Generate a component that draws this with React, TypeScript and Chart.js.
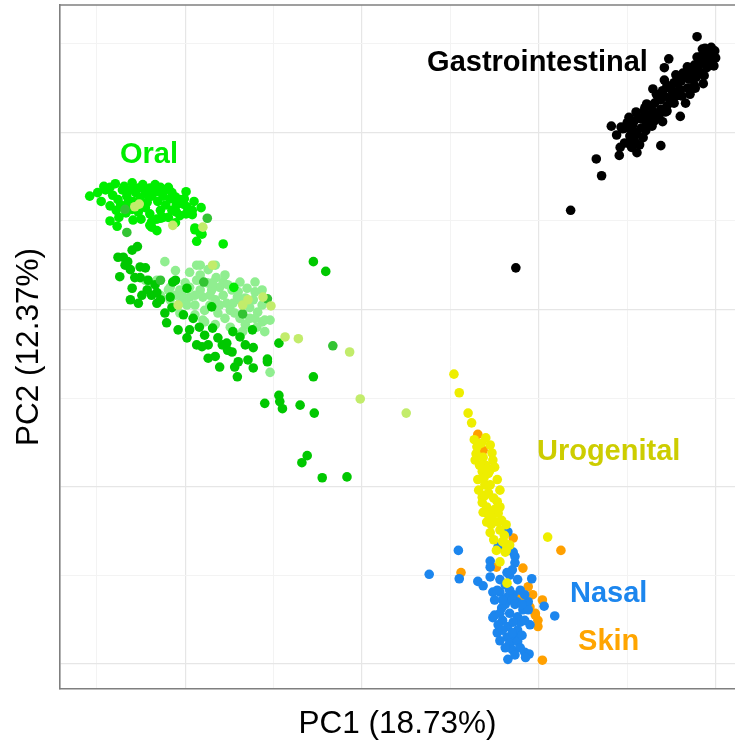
import React, { useEffect, useRef } from 'react';
import { Chart, registerables } from 'chart.js';

Chart.register(...registerables);

const FONT = '"Liberation Sans", Arial, Helvetica, sans-serif';

const X_TITLE = 'PC1 (18.73%)';
const Y_TITLE = 'PC2 (12.37%)';
const X_RANGE = [-0.3416, 0.4219];
const Y_RANGE = [-0.4285, 0.3438];
const GRID_X = [-0.3, -0.2, -0.1, 0, 0.1, 0.2, 0.3, 0.4];
const GRID_Y = [-0.4, -0.3, -0.2, -0.1, 0, 0.1, 0.2, 0.3];

const GASTRO: [number, number][] = [
  [0.379, 0.308], [0.174, 0.047], [0.236, 0.112], [0.271, 0.151], [0.265, 0.170], [0.291, 0.174],
  [0.292, 0.183], [0.311, 0.177], [0.282, 0.207], [0.338, 0.185], [0.360, 0.218], [0.386, 0.255],
  [0.347, 0.283], [0.342, 0.273], [0.342, 0.259], [0.329, 0.249], [0.320, 0.228], [0.302, 0.217],
  [0.398, 0.275], [0.397, 0.287], [0.385, 0.294], [0.372, 0.248], [0.366, 0.233], [0.345, 0.224],
  [0.340, 0.212], [0.318, 0.194], [0.301, 0.188],
  [0.295, 0.204], [0.303, 0.196], [0.308, 0.191], [0.300, 0.211], [0.306, 0.203], [0.311, 0.198],
  [0.308, 0.213], [0.316, 0.205], [0.310, 0.223], [0.317, 0.215], [0.322, 0.209], [0.319, 0.224],
  [0.326, 0.217], [0.330, 0.212], [0.322, 0.232], [0.329, 0.224], [0.334, 0.220], [0.331, 0.233],
  [0.338, 0.226], [0.333, 0.243], [0.338, 0.237], [0.345, 0.230], [0.340, 0.247], [0.347, 0.239],
  [0.353, 0.233], [0.345, 0.253], [0.351, 0.247], [0.355, 0.241], [0.353, 0.256], [0.360, 0.248],
  [0.355, 0.265], [0.361, 0.258], [0.368, 0.250], [0.363, 0.267], [0.370, 0.260], [0.376, 0.253],
  [0.368, 0.274], [0.373, 0.268], [0.378, 0.262], [0.376, 0.276], [0.382, 0.268], [0.387, 0.264],
  [0.379, 0.285], [0.383, 0.278], [0.390, 0.273], [0.386, 0.288], [0.391, 0.282], [0.397, 0.276],
  [0.392, 0.293], [0.398, 0.286], [0.399, 0.292], [0.395, 0.296],
  [0.388, 0.295], [0.394, 0.287], [0.400, 0.284], [0.382, 0.285], [0.389, 0.281], [0.396, 0.279],
  [0.380, 0.275], [0.371, 0.270], [0.365, 0.262], [0.357, 0.255], [0.348, 0.250], [0.342, 0.241],
  [0.335, 0.237], [0.327, 0.230], [0.320, 0.221], [0.313, 0.216], [0.306, 0.208], [0.301, 0.205],
  [0.293, 0.206], [0.288, 0.197], [0.297, 0.188], [0.305, 0.183], [0.314, 0.186], [0.321, 0.202],
  [0.328, 0.207], [0.336, 0.216], [0.343, 0.223], [0.371, 0.243], [0.362, 0.241], [0.377, 0.250],
];

const ORAL_BRIGHT: [number, number][] = [
  [-0.308, 0.128], [-0.299, 0.132], [-0.295, 0.122], [-0.290, 0.135], [-0.285, 0.138], [-0.282, 0.129],
  [-0.279, 0.142], [-0.276, 0.124], [-0.271, 0.135], [-0.269, 0.139], [-0.266, 0.128], [-0.262, 0.135],
  [-0.260, 0.143], [-0.259, 0.122], [-0.256, 0.132], [-0.253, 0.137], [-0.251, 0.126], [-0.248, 0.141],
  [-0.245, 0.132], [-0.243, 0.121], [-0.240, 0.137], [-0.238, 0.128], [-0.234, 0.141], [-0.232, 0.133],
  [-0.231, 0.122], [-0.228, 0.138], [-0.225, 0.128], [-0.223, 0.135], [-0.219, 0.138], [-0.217, 0.125],
  [-0.215, 0.132], [-0.211, 0.127], [-0.210, 0.118], [-0.206, 0.124], [-0.202, 0.119], [-0.201, 0.125],
  [-0.198, 0.116], [-0.192, 0.112], [-0.190, 0.122], [-0.182, 0.115], [-0.285, 0.117], [-0.278, 0.112],
  [-0.273, 0.118], [-0.267, 0.109], [-0.260, 0.113], [-0.253, 0.110], [-0.250, 0.102], [-0.245, 0.115],
  [-0.240, 0.108], [-0.238, 0.099], [-0.232, 0.102], [-0.228, 0.112], [-0.225, 0.104], [-0.219, 0.104],
  [-0.215, 0.112], [-0.210, 0.110], [-0.206, 0.106], [-0.199, 0.108], [-0.192, 0.107], [-0.275, 0.104],
  [-0.285, 0.100], [-0.277, 0.094], [-0.259, 0.101], [-0.240, 0.095], [-0.238, 0.093], [-0.232, 0.089],
  [-0.228, 0.103], [-0.211, 0.098], [-0.189, 0.092], [-0.181, 0.085], [-0.187, 0.077], [-0.157, 0.074],
  [-0.145, 0.025], [-0.183, 0.086], [-0.189, 0.090], [-0.265, 0.120], [-0.242, 0.129], [-0.222, 0.118],
  [-0.199, 0.133], [-0.292, 0.139],
];

const ORAL_MID: [number, number][] = [
  [-0.268, 0.113], [-0.266, 0.087], [-0.175, 0.103], [-0.228, 0.033], [-0.179, 0.031], [-0.135, -0.005],
  [-0.107, 0.012], [-0.033, -0.041],
];

const ORAL_YELLOWGREEN: [number, number][] = [
  [-0.257, 0.116], [-0.252, 0.119], [-0.214, 0.095], [-0.180, 0.093], [-0.169, 0.050], [-0.087, -0.031],
  [-0.072, -0.033], [-0.014, -0.048], [-0.002, -0.101], [0.050, -0.117], [-0.208, 0.005], [-0.135, 0.005],
  [-0.112, 0.014], [-0.103, 0.004], [-0.129, 0.011],
];

const ORAL_LIGHT: [number, number][] = [
  [-0.223, 0.054], [-0.187, 0.050], [-0.232, 0.033], [-0.217, 0.025], [-0.206, 0.022], [-0.195, 0.025],
  [-0.187, 0.033], [-0.175, 0.030], [-0.161, 0.025], [-0.157, 0.031], [-0.141, 0.014], [-0.130, 0.024],
  [-0.123, 0.011], [-0.202, 0.014], [-0.195, 0.014], [-0.180, 0.014], [-0.153, 0.007], [-0.146, 0.007],
  [-0.157, 0.016], [-0.172, 0.005], [-0.163, -0.004], [-0.138, -0.010], [-0.119, -0.020], [-0.118, -0.003],
  [-0.113, -0.014], [-0.110, -0.025], [-0.149, -0.020], [-0.206, -0.004], [-0.180, -0.012], [-0.104, -0.071],
  [-0.217, 0.011], [-0.189, 0.005], [-0.178, -0.001], [-0.166, 0.011], [-0.149, -0.001], [-0.140, 0.020],
  [-0.170, 0.022], [-0.200, 0.030], [-0.211, 0.016], [-0.183, 0.022], [-0.155, -0.010], [-0.127, 0.002],
  [-0.113, 0.005], [-0.132, -0.017], [-0.166, -0.017], [-0.189, -0.006], [-0.198, 0.005], [-0.228, 0.016],
  [-0.240, 0.028], [-0.245, 0.033], [-0.121, 0.020], [-0.138, 0.011], [-0.147, 0.022], [-0.165, 0.036],
  [-0.183, 0.039], [-0.104, -0.012], [-0.121, -0.010], [-0.172, 0.016],
  [-0.211, 0.044], [-0.195, 0.042], [-0.174, 0.045], [-0.155, 0.039], [-0.138, 0.031], [-0.121, 0.031],
  [-0.113, 0.022], [-0.152, 0.028], [-0.169, 0.030], [-0.189, 0.016], [-0.206, 0.007], [-0.132, 0.013],
  [-0.144, -0.004], [-0.127, -0.010], [-0.161, 0.005], [-0.178, -0.014], [-0.110, -0.012], [-0.135, -0.025],
  [-0.183, 0.050], [-0.166, 0.050], [-0.219, 0.022],
];

const ORAL_DARK: [number, number][] = [
  [-0.270, 0.059], [-0.260, 0.067], [-0.254, 0.071], [-0.276, 0.059], [-0.274, 0.037], [-0.262, 0.045],
  [-0.251, 0.048], [-0.245, 0.047], [-0.257, 0.036], [-0.260, 0.024], [-0.251, 0.036], [-0.243, 0.022],
  [-0.238, 0.016], [-0.232, 0.019], [-0.262, 0.011], [-0.253, 0.007], [-0.232, 0.007], [-0.217, 0.014],
  [-0.211, 0.033], [-0.198, 0.024], [-0.170, 0.003], [-0.214, 0.031], [-0.228, 0.011], [-0.215, 0.002],
  [-0.202, -0.006], [-0.221, -0.015], [-0.208, -0.023], [-0.198, -0.032], [-0.191, -0.010], [-0.184, -0.020],
  [-0.187, -0.040], [-0.181, -0.042], [-0.174, -0.040], [-0.169, -0.021], [-0.158, -0.040], [-0.153, -0.038],
  [-0.147, -0.048], [-0.146, -0.025], [-0.174, -0.055], [-0.166, -0.053], [-0.161, -0.065], [-0.144, -0.065],
  [-0.140, -0.059], [-0.141, -0.076], [-0.129, -0.057], [-0.123, -0.066], [-0.124, -0.023], [-0.138, -0.031],
  [-0.123, -0.043], [-0.107, -0.056], [-0.107, -0.059], [-0.094, -0.038], [-0.055, 0.054], [-0.041, 0.043],
  [-0.055, -0.076], [-0.094, -0.097], [-0.110, -0.106], [-0.093, -0.104], [-0.090, -0.112], [-0.070, -0.108],
  [-0.054, -0.117], [-0.062, -0.165], [-0.068, -0.173], [-0.045, -0.190], [-0.017, -0.189],
  [-0.268, 0.050], [-0.242, 0.033], [-0.234, 0.028], [-0.223, -0.004], [-0.195, -0.023], [-0.178, -0.029],
  [-0.163, -0.032], [-0.152, -0.046], [-0.132, -0.040], [-0.265, 0.054], [-0.249, 0.016],
];

const UROGENITAL: [number, number][] = [
  [0.104, -0.073], [0.110, -0.094], [0.120, -0.117], [0.124, -0.128], [0.135, -0.151], [0.145, -0.153],
  [0.129, -0.163], [0.137, -0.167], [0.128, -0.170], [0.147, -0.162], [0.148, -0.170], [0.150, -0.178],
  [0.143, -0.185], [0.136, -0.183], [0.131, -0.192], [0.153, -0.192], [0.139, -0.198], [0.132, -0.204],
  [0.136, -0.212], [0.143, -0.207], [0.156, -0.204], [0.136, -0.218], [0.141, -0.223], [0.153, -0.217],
  [0.156, -0.223], [0.143, -0.232], [0.154, -0.230], [0.141, -0.240], [0.154, -0.240], [0.158, -0.238],
  [0.163, -0.243], [0.145, -0.252], [0.149, -0.260], [0.159, -0.262], [0.210, -0.257], [0.163, -0.272],
  [0.162, -0.264], [0.162, -0.274], [0.156, -0.285], [0.164, -0.309], [0.130, -0.155], [0.140, -0.176],
  [0.145, -0.198], [0.149, -0.213], [0.138, -0.190], [0.146, -0.243], [0.156, -0.249], [0.161, -0.255],
  [0.152, -0.272], [0.167, -0.266],
  [0.133, -0.176], [0.145, -0.181], [0.139, -0.210], [0.150, -0.226], [0.137, -0.229], [0.147, -0.235],
  [0.127, -0.147], [0.140, -0.145],
];

const NASAL: [number, number][] = [
  [0.076, -0.299], [0.109, -0.272], [0.110, -0.304], [0.131, -0.307], [0.137, -0.312], [0.145, -0.302],
  [0.145, -0.284], [0.154, -0.268], [0.165, -0.251], [0.171, -0.274], [0.173, -0.286], [0.167, -0.300],
  [0.148, -0.319], [0.156, -0.319], [0.164, -0.325], [0.171, -0.322], [0.179, -0.317], [0.192, -0.304],
  [0.188, -0.330], [0.175, -0.330], [0.206, -0.335], [0.218, -0.346], [0.158, -0.337], [0.150, -0.345],
  [0.148, -0.348], [0.159, -0.351], [0.167, -0.343], [0.176, -0.347], [0.182, -0.339], [0.188, -0.339],
  [0.179, -0.353], [0.190, -0.356], [0.154, -0.356], [0.165, -0.358], [0.176, -0.362], [0.153, -0.365],
  [0.164, -0.370], [0.173, -0.371], [0.167, -0.377], [0.176, -0.375], [0.170, -0.384], [0.184, -0.387],
  [0.189, -0.389], [0.165, -0.395], [0.185, -0.393], [0.145, -0.291], [0.173, -0.279], [0.170, -0.294],
  [0.156, -0.305], [0.164, -0.297], [0.162, -0.333], [0.170, -0.328],
  [0.153, -0.317], [0.162, -0.311], [0.167, -0.317], [0.159, -0.328], [0.173, -0.333], [0.181, -0.333],
  [0.156, -0.343], [0.171, -0.353], [0.184, -0.351], [0.159, -0.362], [0.170, -0.365], [0.181, -0.368],
  [0.156, -0.374], [0.179, -0.382], [0.173, -0.390], [0.162, -0.382], [0.176, -0.305], [0.184, -0.322],
  [0.150, -0.328],
];

const SKIN: [number, number][] = [
  [0.131, -0.141], [0.137, -0.159], [0.141, -0.178], [0.149, -0.229], [0.171, -0.258], [0.225, -0.272],
  [0.112, -0.297], [0.152, -0.291], [0.182, -0.292], [0.188, -0.313], [0.179, -0.325], [0.193, -0.322],
  [0.204, -0.328], [0.190, -0.336], [0.196, -0.345], [0.199, -0.351], [0.199, -0.358], [0.196, -0.343],
  [0.204, -0.396],
];

const LABEL_TEXT = ['Gastrointestinal', 'Oral', 'Urogenital', 'Nasal', 'Skin'];
const LABEL_X = [0.1985, -0.241, 0.279, 0.279, 0.279];
const LABEL_Y = [0.278, 0.174, -0.161, -0.321, -0.375];
const LABEL_COLOR = ['#000000', '#00EE00', '#CDCD00', '#1C86EE', '#FFA500'];

const SERIES_NAMES = ['Oral yellow-green', 'Oral mid', 'Oral bright', 'Oral dark', 'Oral light', 'Urogenital', 'Nasal', 'Skin', 'Gastrointestinal'];
const SERIES_DATA = [ORAL_YELLOWGREEN, ORAL_MID, ORAL_BRIGHT, ORAL_DARK, ORAL_LIGHT, UROGENITAL, NASAL, SKIN, GASTRO];
const SERIES_COLOR = ['#C2EC6B', '#33C433', '#00EE00', '#00C800', '#90EE90', '#EEEE00', '#1C86EE', '#FFA000', '#000000'];

const MAJOR_GRID = '#E6E6E6';
const MINOR_GRID = '#F3F3F3';
const BORDER = '#7F7F7F';

const isMajor = (v: number) => Math.abs(Math.round(v * 10)) % 2 === 0;

const overlayPlugin = {
  id: 'overlay',
  afterDatasetsDraw(chart: any) {
    const { ctx, scales } = chart;
    ctx.save();
    ctx.font = `bold 29px ${FONT}`;
    ctx.textAlign = 'center';
    ctx.textBaseline = 'middle';
    LABEL_TEXT.forEach((t, i) => {
      ctx.fillStyle = LABEL_COLOR[i];
      ctx.fillText(t, scales.x.getPixelForValue(LABEL_X[i]), scales.y.getPixelForValue(LABEL_Y[i]));
    });
    ctx.restore();
  },
  afterDraw(chart: any) {
    const { ctx, chartArea } = chart;
    ctx.save();
    ctx.strokeStyle = BORDER;
    ctx.lineWidth = 1.6;
    ctx.beginPath();
    ctx.moveTo(chartArea.left, chartArea.top);
    ctx.lineTo(chartArea.right + 2, chartArea.top);
    ctx.stroke();
    ctx.restore();
  },
};

export default function App() {
  const ref = useRef<HTMLCanvasElement | null>(null);

  useEffect(() => {
    if (!ref.current) return;
    const gridOpts = {
      drawTicks: false,
      tickLength: 0,
      color: (c: any) => (c.tick && isMajor(c.tick.value) ? MAJOR_GRID : MINOR_GRID),
      lineWidth: (c: any) => (c.tick && isMajor(c.tick.value) ? 1.2 : 1),
    };
    const chart = new Chart(ref.current, {
      type: 'scatter',
      data: {
        datasets: SERIES_DATA.map((pts, i) => ({
          label: SERIES_NAMES[i],
          data: pts.map(([x, y]) => ({ x, y })),
          backgroundColor: SERIES_COLOR[i],
          borderColor: SERIES_COLOR[i],
          pointRadius: 4.8,
          pointHoverRadius: 4.8,
          pointBorderWidth: 0,
          borderWidth: 0,
        })),
      },
      options: {
        animation: false,
        responsive: false,
        events: [],
        layout: { autoPadding: false, padding: { top: 5, left: 0, right: 0, bottom: 0 } },
        plugins: { legend: { display: false }, tooltip: { enabled: false }, title: { display: false } },
        scales: {
          x: {
            type: 'linear',
            min: X_RANGE[0],
            max: X_RANGE[1],
            afterBuildTicks: (s: any) => { s.ticks = GRID_X.map((v) => ({ value: v })); },
            afterFit: (s: any) => { s.height = 54; },
            ticks: { display: false },
            grid: gridOpts as any,
            border: { display: true, color: BORDER, width: 1.6 },
            title: {
              display: true,
              text: X_TITLE,
              color: '#000',
              font: { family: FONT, size: 31.5, weight: 'normal' },
              padding: { top: 0, bottom: 0 },
            },
          },
          y: {
            type: 'linear',
            min: Y_RANGE[0],
            max: Y_RANGE[1],
            afterBuildTicks: (s: any) => { s.ticks = GRID_Y.map((v) => ({ value: v })); },
            afterFit: (s: any) => { s.width = 60; },
            ticks: { display: false },
            grid: gridOpts as any,
            border: { display: true, color: BORDER, width: 1.6 },
            title: {
              display: true,
              text: Y_TITLE,
              color: '#000',
              font: { family: FONT, size: 31.5, weight: 'normal' },
              padding: { top: 10, bottom: 0 },
            },
          },
        },
      } as any,
      plugins: [overlayPlugin],
    });
    return () => chart.destroy();
  }, []);

  return (
    <div style={{ position: 'fixed', left: 0, top: 0, width: 735, height: 743, background: '#fff' }}>
      <canvas ref={ref} width={735} height={743} style={{ display: 'block', width: 735, height: 743 }} />
    </div>
  );
}
